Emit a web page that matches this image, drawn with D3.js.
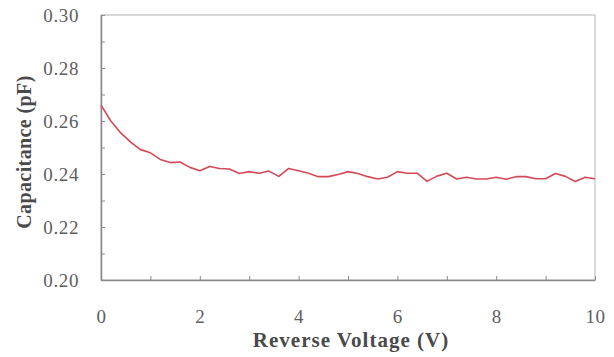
<!DOCTYPE html>
<html>
<head>
<meta charset="utf-8">
<script src="https://cdn.jsdelivr.net/npm/d3@7"></script>
<style>
  body { margin: 0; background: #fff; }
  svg text { font-family: "Liberation Serif", "DejaVu Serif", serif; }
</style>
</head>
<body>
<div id="chart"></div>
<script>
// Reverse voltage (V)
const voltage = [0, 0.2, 0.4, 0.6, 0.8, 1.0, 1.2, 1.4, 1.6, 1.8,
    2.0, 2.2, 2.4, 2.6, 2.8, 3.0, 3.2, 3.4, 3.6, 3.8,
    4.0, 4.2, 4.4, 4.6, 4.8, 5.0, 5.2, 5.4, 5.6, 5.8,
    6.0, 6.2, 6.4, 6.6, 6.8, 7.0, 7.2, 7.4, 7.6, 7.8,
    8.0, 8.2, 8.4, 8.6, 8.8, 9.0, 9.2, 9.4, 9.6, 9.8, 10.0];

// Capacitance (pF)
const capacitance = [0.2660, 0.2600, 0.2555, 0.2520, 0.2492, 0.2480, 0.2455, 0.2443, 0.2445, 0.2425,
    0.2412, 0.2428, 0.2421, 0.2419, 0.2402, 0.2409, 0.2403, 0.2411, 0.2391, 0.2421,
    0.2412, 0.2403, 0.2390, 0.2390, 0.2398, 0.2409, 0.2402, 0.2390, 0.2381, 0.2388,
    0.2409, 0.2403, 0.2403, 0.2372, 0.2392, 0.2403, 0.2381, 0.2388, 0.2381, 0.2381,
    0.2388, 0.2380, 0.2390, 0.2390, 0.2382, 0.2382, 0.2402, 0.2391, 0.2372, 0.2388, 0.2382];

const xTicks = [0, 2, 4, 6, 8, 10];
const xMinorTicks = [1, 3, 5, 7, 9];
const yTicks = [0.20, 0.22, 0.24, 0.26, 0.28, 0.30];
const yMinorTicks = [0.21, 0.23, 0.25, 0.27, 0.29];

const margin = { top: 15, right: 19, bottom: 77, left: 101 };
const width = 614 - margin.left - margin.right;
const height = 357 - margin.top - margin.bottom;

const svg = d3.select('#chart')
    .append('svg')
    .attr('width', 614)
    .attr('height', 357);

const g = svg.append('g')
    .attr('transform', `translate(${margin.left},${margin.top})`);

const x = d3.scaleLinear().domain([0, 10]).range([0, width]);
const y = d3.scaleLinear().domain([0.20, 0.30]).range([height, 0]);

const axisColor = '#8a8a8a';
const labelColor = '#5e5e5e';
const serif = '"Liberation Serif", "DejaVu Serif", serif';

// frame
g.append('rect')
    .attr('width', width)
    .attr('height', height)
    .attr('fill', 'none')
    .attr('stroke', '#b4b4b4')
    .attr('stroke-width', 1);

// bottom axis, ticks pointing inward
const xAxis = g.append('g')
    .attr('transform', `translate(0,${height})`)
    .call(d3.axisBottom(x)
        .tickValues(xTicks.concat(xMinorTicks))
        .tickSizeInner(-4)
        .tickSizeOuter(0)
        .tickPadding(30)
        .tickFormat(d => xTicks.includes(d) ? d3.format('d')(d) : ''));

// left axis, ticks pointing inward
const yAxis = g.append('g')
    .call(d3.axisLeft(y)
        .tickValues(yTicks.concat(yMinorTicks))
        .tickSizeInner(-4)
        .tickSizeOuter(0)
        .tickPadding(22)
        .tickFormat(d => yTicks.some(t => Math.abs(t - d) < 1e-9) ? d3.format('.2f')(d) : ''));

[xAxis, yAxis].forEach(a => {
    a.attr('font-family', serif);
    a.select('.domain').attr('stroke', axisColor).attr('stroke-width', 1.5);
    a.selectAll('.tick line').attr('stroke', axisColor);
    a.selectAll('.tick text')
        .attr('fill', labelColor)
        .style('font-family', serif)
        .style('font-size', '19px')
        .style('letter-spacing', '0.6px');
});

// data line
const line = d3.line()
    .x((d, i) => x(voltage[i]))
    .y(d => y(d));

g.append('path')
    .datum(capacitance)
    .attr('fill', 'none')
    .attr('stroke', '#d24a55')
    .attr('stroke-width', 1.6)
    .attr('stroke-linejoin', 'round')
    .attr('d', line);

// axis titles
svg.append('text')
    .attr('x', 351)
    .attr('y', 347)
    .attr('text-anchor', 'middle')
    .attr('fill', '#4a4a4a')
    .style('font-family', serif)
    .style('font-size', '21px')
    .style('font-weight', 'bold')
    .style('letter-spacing', '1px')
    .text('Reverse Voltage (V)');

svg.append('text')
    .attr('transform', `translate(31,152) rotate(-90)`)
    .attr('text-anchor', 'middle')
    .attr('fill', '#4a4a4a')
    .style('font-family', serif)
    .style('font-size', '20px')
    .style('font-weight', 'bold')
    .style('letter-spacing', '0.4px')
    .text('Capacitance (pF)');
</script>
</body>
</html>
